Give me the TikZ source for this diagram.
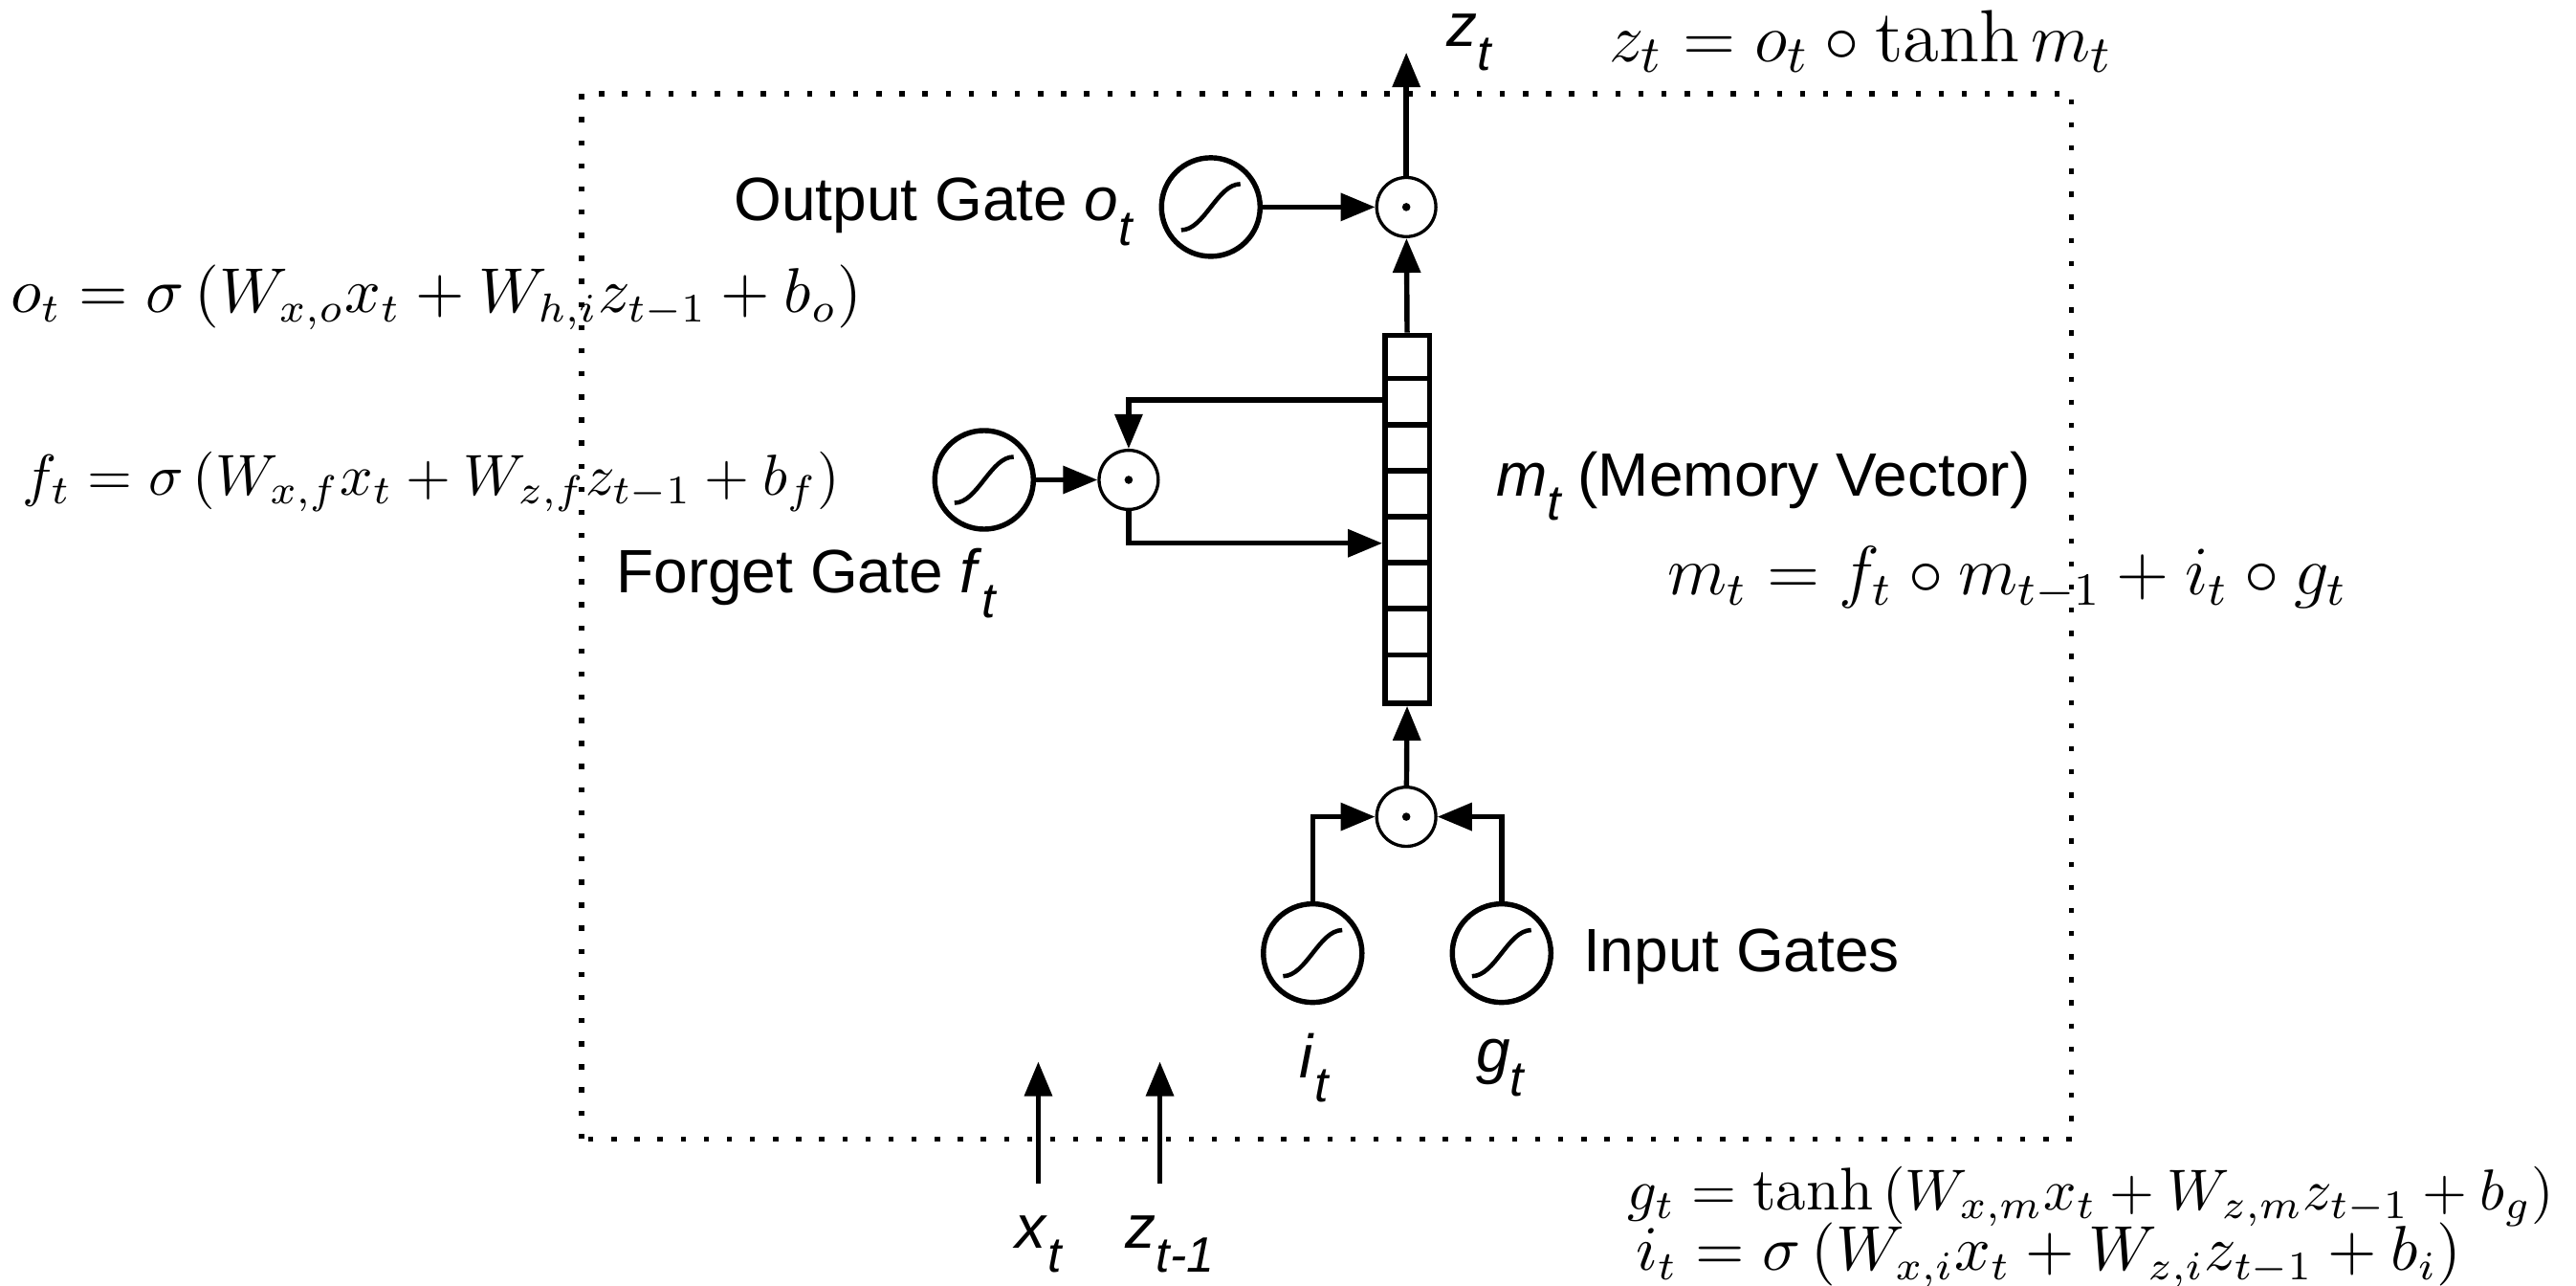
\documentclass[tikz,border=0pt]{standalone}
\usepackage{fontspec}
\newfontfamily\hfont{Liberation Sans}
\usetikzlibrary{arrows.meta}
\newcommand{\hv}[2]{\textit{#1}\raisebox{-0.75ex}{\fontsize{8.6}{9}\selectfont\itshape #2}}
\begin{document}
\begin{tikzpicture}[
  txt/.style={font=\hfont\fontsize{10.6}{12}\selectfont,inner sep=0},
  eq/.style={font=\fontsize{#1}{14}\selectfont,inner sep=0},
  arr/.style={line width=0.9pt,-{Triangle[length=0.21cm,width=0.165cm]}},
  sig/.style={circle,draw,line width=0.9pt,minimum size=0.6cm,inner sep=0,
    path picture={\draw[line width=0.75pt,shift={(path picture bounding box.center)}]
      (-0.18,-0.14) .. controls (-0.04,-0.14) and (0.04,0.14) .. (0.18,0.14);}},
  mult/.style={circle,draw,line width=0.55pt,minimum size=0.36cm,inner sep=0,
    path picture={\fill (path picture bounding box.center) circle (0.025);}}]
  \useasboundingbox (0,0) rectangle (15.68,7.82);
  \draw[line width=0.9pt,dash pattern=on 0.9pt off 3.1pt] (3.54,0.89) rectangle (12.61,7.25);
  % output
  \node[mult] (om) at (8.56,6.56) {};
  \node[sig] (os) at (7.37,6.56) {};
  \node[txt,anchor=east] (ol) at (6.90,6.53) {Output Gate \hv{o}{t}};
  \coordinate (ztop) at (8.56,7.50);
  \node[txt,anchor=west] (zl) at (8.80,7.56) {\hv{z}{t}};
  \node[eq=12.8] (ze) at (11.33,7.57) {$z_t = o_t \circ \tanh m_t$};
  % memory
  \node[draw,line width=0.9pt,minimum width=0.27cm,minimum height=2.24cm,inner sep=0] (mem) at (8.565,4.66) {};
  \foreach \k in {1,...,7}
    \draw[line width=0.9pt] ([yshift=-\k*0.28cm]mem.north west) -- ([yshift=-\k*0.28cm]mem.north east);
  \coordinate (mtop) at ([yshift=-0.41cm]mem.north west);
  \coordinate (mlow) at ([yshift=0.99cm]mem.south west);
  \node[txt,anchor=west] (ml) at (9.10,4.86) {\hv{m}{t} (Memory Vector)};
  \node[eq=11.9] (me) at (12.22,4.30) {$m_t = f_t \circ m_{t-1} + i_t \circ g_t$};
  % forget
  \node[mult] (fm) at (6.87,4.90) {};
  \node[sig] (fs) at (5.99,4.90) {};
  \node[txt,anchor=east] (fl) at (6.07,4.27) {Forget Gate \hv{f}{t}};
  \node[eq=10.6] (oe) at (2.655,6.01) {$o_t = \sigma\left(W_{x,o}x_t + W_{h,i}z_{t-1} + b_o\right)$};
  \node[eq=10.4] (fe) at (2.625,4.89) {$f_t = \sigma\left(W_{x,f}x_t + W_{z,f}z_{t-1} + b_f\right)$};
  % input
  \node[mult] (im) at (8.56,2.85) {};
  \node[sig] (is) at (7.99,2.02) {};
  \node[sig] (gs) at (9.14,2.02) {};
  \node[txt,anchor=west] (il) at (9.63,2.00) {Input Gates};
  \node[txt] (it) at (8.00,1.32) {\hv{i}{t}};
  \node[txt] (gt) at (9.13,1.32) {\hv{g}{t}};
  \node[eq=10.45,anchor=west] (ge) at (9.90,0.54) {$g_t = \tanh\left(W_{x,m}x_t + W_{z,m}z_{t-1} + b_g\right)$};
  \node[eq=10.5,anchor=west] (ie) at (9.95,0.18) {$i_t = \sigma\left(W_{x,i}x_t + W_{z,i}z_{t-1} + b_i\right)$};
  % inputs
  \node[txt] (xt) at (6.32,0.25) {\hv{x}{t}};
  \node[txt] (zp) at (7.12,0.25) {\hv{z}{t-1}};
  \coordinate (xbot) at (6.32,0.62);
  \coordinate (xtop) at (6.32,1.36);
  \coordinate (zbot) at (7.06,0.62);
  \coordinate (ztp) at (7.06,1.36);
  % connectors
  \draw[arr] (om) -- (ztop);
  \draw[arr] (os) -- (om);
  \draw[arr] (mem.north) -- (om);
  \draw[arr] (mtop) -| (fm.north);
  \draw[arr] (fs) -- (fm);
  \draw[arr] (fm.south) |- (mlow);
  \draw[arr] (im) -- (mem.south);
  \draw[arr] (is.north) |- (im.west);
  \draw[arr] (gs.north) |- (im.east);
  \draw[arr] (xbot) -- (xtop);
  \draw[arr] (zbot) -- (ztp);
\end{tikzpicture}
\end{document}
